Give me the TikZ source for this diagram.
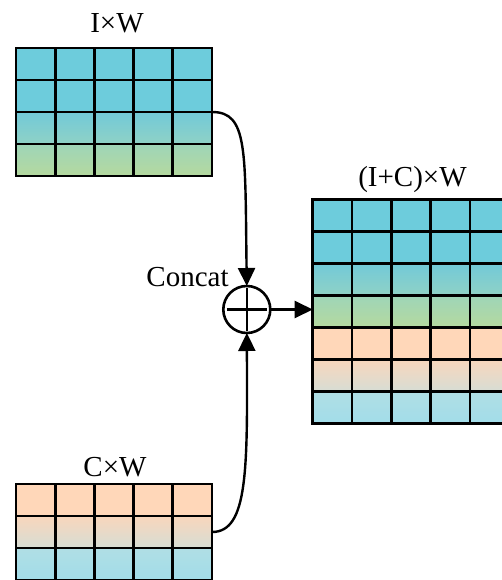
\documentclass[tikz,border=0pt]{standalone}
\usepackage{fontspec}
\setmainfont{Liberation Serif}
\usetikzlibrary{arrows.meta}
\definecolor{cyanA}{HTML}{6DCCDC}
\definecolor{gThreeA}{HTML}{72C9D8}
\definecolor{gThreeB}{HTML}{8FD2C6}
\definecolor{gFourA}{HTML}{9ED5B8}
\definecolor{gFourB}{HTML}{B5D99F}
\definecolor{peach}{HTML}{FFD7B9}
\definecolor{pTwoA}{HTML}{F8D6BC}
\definecolor{pTwoB}{HTML}{D7DDD4}
\definecolor{bThreeA}{HTML}{B0DEE5}
\definecolor{bThreeB}{HTML}{A2DDE9}
\begin{document}
\begin{tikzpicture}[x=1pt,y=-1pt,
  gridline/.style={line width=2.8pt, black},
  gridbox/.style={draw=black, line width=2.8pt, inner sep=0pt, outer sep=0pt},
  conn/.style={line width=2.4pt, -{Triangle[length=18pt,width=17pt]}},
  plusbar/.style={line width=2.6pt, black},
  lbl/.style={font=\fontsize{29}{32}\selectfont, anchor=base, inner sep=0pt}]
\useasboundingbox (0,0) rectangle (502,580);
\clip (0,0) rectangle (502,580);

% ---------- top grid I x W ----------
\fill[cyanA] (16,48) rectangle (212,112);
\shade[top color=gThreeA,bottom color=gThreeB] (16,112) rectangle (212,144);
\shade[top color=gFourA,bottom color=gFourB] (16,144) rectangle (212,176);
\foreach \x in {55.2,94.4,133.6,172.8} \draw[gridline] (\x,48) -- (\x,176);
\foreach \y in {80,112,144} \draw[gridline] (16,\y) -- (212,\y);
\node[gridbox, minimum width=196pt, minimum height=128pt] (gi) at (114,112) {};

% ---------- bottom grid C x W ----------
\fill[peach] (16,484) rectangle (212,516);
\shade[top color=pTwoA,bottom color=pTwoB] (16,516) rectangle (212,548);
\shade[top color=bThreeA,bottom color=bThreeB] (16,548) rectangle (212,580);
\foreach \x in {55.2,94.4,133.6,172.8} \draw[gridline] (\x,484) -- (\x,580);
\foreach \y in {516,548} \draw[gridline] (16,\y) -- (212,\y);
\node[gridbox, minimum width=196pt, minimum height=96pt] (gc) at (114,532) {};

% ---------- right grid (I+C) x W ----------
\fill[cyanA] (312.7,199.3) rectangle (509.2,263.3);
\shade[top color=gThreeA,bottom color=gThreeB] (312.7,263.3) rectangle (509.2,295.3);
\shade[top color=gFourA,bottom color=gFourB] (312.7,295.3) rectangle (509.2,327.3);
\fill[peach] (312.7,327.3) rectangle (509.2,359.3);
\shade[top color=pTwoA,bottom color=pTwoB] (312.7,359.3) rectangle (509.2,391.3);
\shade[top color=bThreeA,bottom color=bThreeB] (312.7,391.3) rectangle (509.2,423.3);
\foreach \x in {352,391.3,430.6,469.9} \draw[gridline] (\x,199.3) -- (\x,423.3);
\foreach \y in {231.3,263.3,295.3,327.3,359.3,391.3} \draw[gridline] (312.7,\y) -- (509.2,\y);
\node[gridbox, minimum width=196.5pt, minimum height=224pt] (gb) at (410.95,311.3) {};

% ---------- concat operator ----------
\node[draw, circle, line width=2.6pt, minimum size=47pt, inner sep=0pt, outer sep=0pt] (cat) at (246.8,309.5) {};
\coordinate (pl) at (226.8,309.5);
\coordinate (pr) at (266.8,309.5);
\coordinate (pt) at (246.8,288);
\coordinate (pb) at (246.8,331);
\draw[plusbar] (pl) -- (pr);
\draw[plusbar] (pt) -- (pb);

% ---------- connectors ----------
\draw[conn] (gi.east) .. controls (248,112) and (245,150) .. (cat.north);
\draw[conn] (gc.east) .. controls (248,532) and (247.5,470) .. (cat.south);
\draw[conn] (cat.east) -- (cat.east -| gb.west);

% ---------- labels ----------
\node[lbl] (li) at (117,33) {I×W};
\node[lbl] (lc) at (115,476) {C×W};
\node[lbl] (lb) at (412.5,186.7) {(I+C)×W};
\node[lbl] (lcat) at (187.5,286.7) {Concat};
\end{tikzpicture}
\end{document}
